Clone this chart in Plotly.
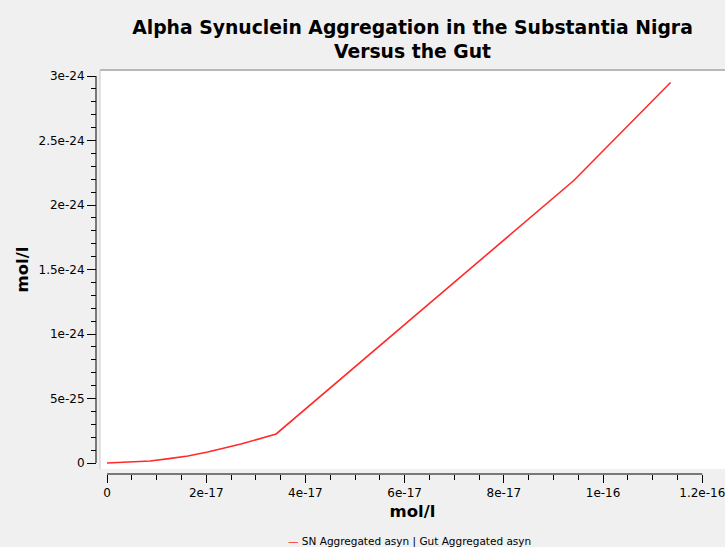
import plotly.graph_objects as go

# data (mol/l)
gut_x = [0, 0.47e-17, 0.87e-17, 1.25e-17, 1.63e-17, 2.03e-17, 2.70e-17, 3.41e-17, 9.41e-17, 11.36e-17]
sn_y = [0, 0.008e-24, 0.016e-24, 0.034e-24, 0.054e-24, 0.085e-24, 0.147e-24, 0.225e-24, 2.19e-24, 2.95e-24]
x_ticks = [0, 2e-17, 4e-17, 6e-17, 8e-17, 1e-16, 1.2e-16]
x_tick_text = ["0", "2e-17", "4e-17", "6e-17", "8e-17", "1e-16", "1.2e-16"]
y_ticks = [0, 5e-25, 1e-24, 1.5e-24, 2e-24, 2.5e-24, 3e-24]
y_tick_text = ["0", "5e-25", "1e-24", "1.5e-24", "2e-24", "2.5e-24", "3e-24"]
series_name = "SN Aggregated asyn | Gut Aggregated asyn"

W, H = 725, 547
def px(x):
    return x / W
def py(y):
    return 1 - y / H

# pixel geometry
plot_l, plot_r, plot_t, plot_b = 100, 725, 70, 469
x0_px, x1_px = 107, 702.3
y0_px, y1_px = 463, 76
xper = 1.2e-16 / (x1_px - x0_px)
yper = 3e-24 / (y0_px - y1_px)
xr = [-(x0_px - plot_l) * xper, (plot_r - x0_px) * xper]
yr = [-(plot_b - y0_px) * yper, 3e-24 + (y1_px - plot_t) * yper]

fig = go.Figure()
fig.add_trace(go.Scatter(x=gut_x, y=sn_y, mode="lines",
                         line=dict(color="#ff2a2a", width=1.6),
                         name=series_name, showlegend=False))

tickfont = dict(family="DejaVu Sans", size=12, color="#000000")
fig.update_layout(
    width=W, height=H,
    paper_bgcolor="#f0f0f0", plot_bgcolor="#ffffff",
    margin=dict(l=0, r=0, t=0, b=0, autoexpand=False),
    title=dict(text="Alpha Synuclein Aggregation in the Substantia Nigra<br>Versus the Gut",
               x=px(412.5), xanchor="center", y=py(34), yanchor="middle",
               font=dict(family="DejaVu Sans", size=18.8, color="#000000", weight="bold")),
    xaxis=dict(domain=[px(plot_l), px(plot_r)], range=xr, anchor="free", position=py(474),
               showgrid=False, zeroline=False, showline=False,
               tickvals=x_ticks, ticktext=x_tick_text, ticks="outside", ticklen=8,
               tickcolor="#000000", tickwidth=1, tickfont=tickfont, ticklabeloverflow="allow",
               minor=dict(dtick=5e-18, tick0=0, ticks="outside", ticklen=5, tickcolor="#000000", showgrid=False),
               title=dict(text="<b>mol/l</b>", font=dict(family="DejaVu Sans", size=16.5, color="#000000"), standoff=6),
               automargin=False),
    yaxis=dict(domain=[py(plot_b), py(plot_t)], range=yr, anchor="free", position=px(96),
               showgrid=False, zeroline=False, showline=False,
               tickvals=y_ticks, ticktext=y_tick_text, ticks="outside", ticklen=9,
               tickcolor="#000000", tickwidth=1, tickfont=tickfont, ticklabeloverflow="allow",
               minor=dict(dtick=1e-25, tick0=0, ticks="outside", ticklen=5, tickcolor="#000000", showgrid=False),
               title=dict(text="<b>mol/l</b>", font=dict(family="DejaVu Sans", size=16.5, color="#000000"), standoff=4),
               automargin=False),
    showlegend=False,
)

# legend entry drawn as a short red dash followed by the series name
fig.add_annotation(xref="paper", yref="paper", x=px(286), y=py(541), xanchor="left", yanchor="middle",
                   showarrow=False,
                   text="<span style='color:#ff2a2a'>—</span> " + series_name,
                   font=dict(family="DejaVu Sans", size=10.5, color="#000000"))

# axis backbones spanning only the scale ranges
fig.add_shape(type="line", xref="x", yref="paper", x0=0, x1=1.2e-16, y0=py(474), y1=py(474),
              line=dict(color="#000000", width=1))
fig.add_shape(type="line", xref="paper", yref="y", x0=px(96), x1=px(96), y0=0, y1=3e-24,
              line=dict(color="#000000", width=1))
# plot frame
fig.add_shape(type="line", xref="paper", yref="paper", x0=px(plot_l), x1=px(plot_r), y0=py(plot_t), y1=py(plot_t),
              line=dict(color="#b8b8b8", width=2))
fig.add_shape(type="line", xref="paper", yref="paper", x0=px(plot_l), x1=px(plot_l), y0=py(plot_t), y1=py(plot_b),
              line=dict(color="#c8c8c8", width=1))

fig.write_html("out.html", config={"displayModeBar": False},
               post_script="document.body.style.margin='0';document.body.style.overflow='hidden';")
